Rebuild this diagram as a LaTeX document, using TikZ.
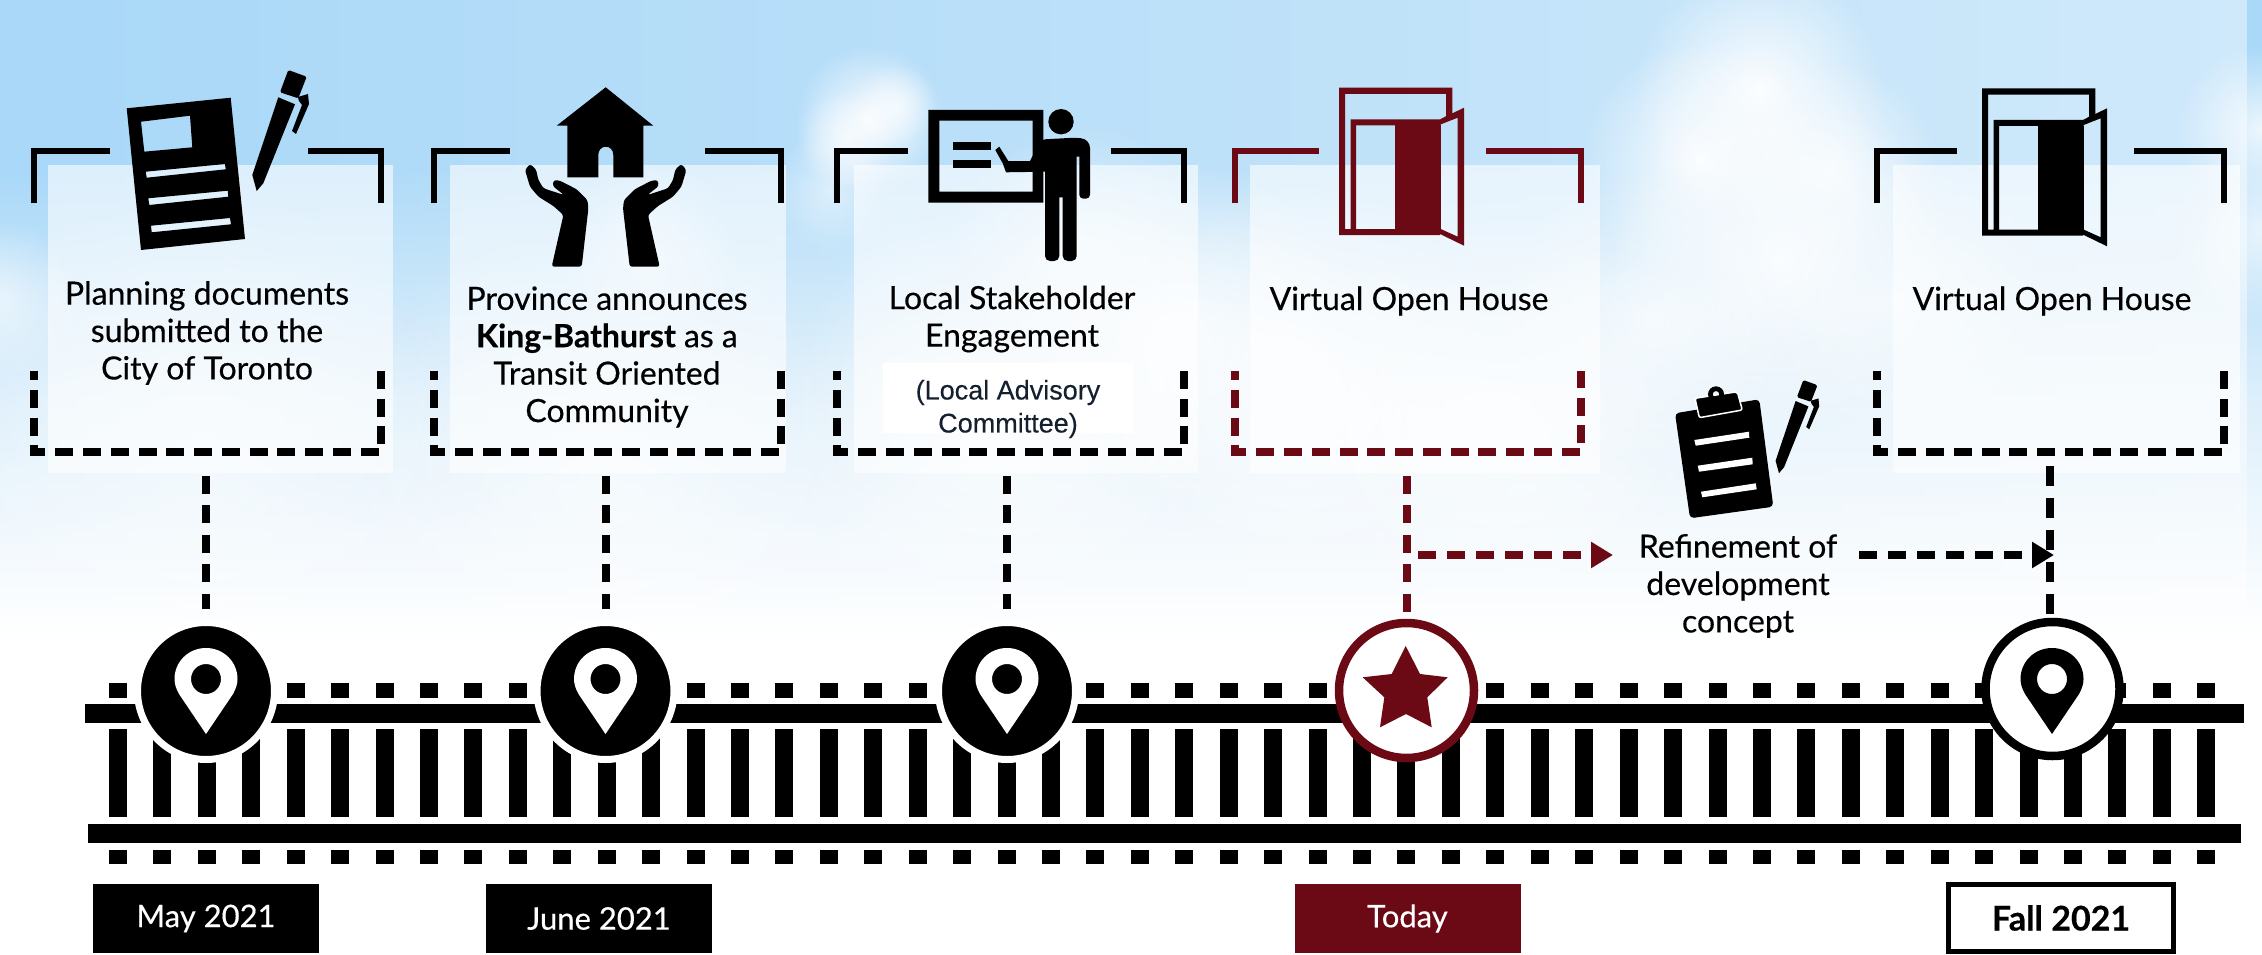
\documentclass[tikz,border=0pt]{standalone}
\usepackage{fontspec}
\setmainfont[FakeBold=0.35]{Lato}
\newfontfamily\arialfont[FakeBold=0.3]{Liberation Sans}
\usetikzlibrary{arrows.meta,calc,fadings,shapes.geometric}
\definecolor{maroon}{HTML}{6B0A14}
\definecolor{skytop}{HTML}{A9D8F8}
\definecolor{skymid}{HTML}{DDEFFB}
\definecolor{navytext}{HTML}{14202E}
\tikzfading[name=softblob, inner color=transparent!0, outer color=transparent!100]
\tikzset{
  panel/.style={fill=white, fill opacity=.6},
  bracketline/.style={line width=6pt, line cap=butt, line join=miter},
  bracketdash/.style={line width=7.5pt, line join=miter, dash pattern=on 18pt off 9.78pt, dash phase=8.9pt},
  framenode/.style={rectangle, minimum height=301pt, inner sep=0pt, outer sep=0pt},
  connector/.style={line width=8pt, dash pattern=on 18pt off 11.4pt},
  flowarrow/.style={line width=7.5pt, dash pattern=on 18pt off 11pt, -{Triangle[length=22pt,width=25pt]}},
  captiontext/.style={align=center, font=\fontsize{32}{37.4}\selectfont, text=black, inner sep=0pt},
  datebox/.style={rectangle, minimum width=226pt, minimum height=69pt, inner sep=0pt, outer sep=0pt, text=white, font=\fontsize{31}{36}\selectfont},
  railpart/.style={fill=black},
  stopdark/.style={circle, minimum size=137pt, inner sep=0pt, outer sep=0pt, fill=black, draw=white, line width=7pt},
  stopring/.style={circle, inner sep=0pt, outer sep=0pt, fill=white, line width=8.5pt},
  pinshape/.pic={
    \fill[pic actions, even odd rule] (0,55) -- (-27,15) .. controls (-30,9.5) and (-31.5,5) .. (-31.5,0)
      .. controls (-31.5,-17.4) and (-17.4,-31) .. (0,-31) .. controls (17.4,-31) and (31.5,-17.4) .. (31.5,0)
      .. controls (31.5,5) and (30,9.5) .. (27,15) -- cycle (0,0) circle[radius=15pt];
  },
  penshape/.pic={
    \fill[rounded corners=1.5pt] (0,0) -- (18.4,6.7) -- (10,28.3) -- (-8.3,22.3) -- cycle;
    \fill (-10,27.3) -- (6.7,34.3) -- (-25,113.3) -- (-31.6,121) -- (-36,105) -- cycle;
    \fill (9.5,27) -- (19.7,24) -- (20.7,34) -- (7.7,64) -- (3.7,61) -- (13.7,35) -- (10.7,31) -- cycle;
  },
  handshape/.pic={
    \fill[rounded corners=2.5pt] (-80.7,90) -- (-75.7,84) -- (-69.7,89.3) -- (-67.3,100) -- (-62.3,108.3) -- (-41.7,115)
      -- (-53,106) -- (-52,100) -- (-45.7,100.7) -- (-29,109.3) -- (-18.3,120) -- (-17.3,128.3)
      -- (-24,186.7) -- (-54,186.7) -- (-42.3,135) -- (-52.3,126) -- (-67.3,116.7) -- (-75.7,106.7) -- cycle;
  },
  doorshape/.pic={
    \fill[even odd rule, pic actions] (0,0) -- (113.3,0) -- (113.3,25.7) -- (125,20) -- (125,158) -- (101,146.3) -- (101,147.3) -- (0,147.3) -- cycle
      (6,6.3) -- (107,6.3) -- (107,28.5) -- (101,31.7) -- (11.7,31.7) -- (11.7,141.3) -- (6,141.3) -- cycle
      (17,37.7) rectangle (56.3,141.3)
      (101.7,36.7) -- (118.7,30) -- (118.7,149) -- (101.7,141.3) -- cycle;
  }
}
\begin{document}
\begin{tikzpicture}[x=1pt,y=-1pt]
\useasboundingbox (0,0) rectangle (2262,955);
\begin{scope}
\clip (0,0) rectangle (2262,955);
% sky
\fill[white] (0,0) rectangle (2262,955);
\fill[skytop] (0,0) rectangle (2262,170);
\shade[top color=skytop, bottom color=skymid] (0,170) rectangle (2262,400);
\shade[top color=skymid, bottom color=white] (0,400) rectangle (2262,640);
\fill[white, path fading=west, fill opacity=.45] (0,0) rectangle (2262,640);
% clouds
\foreach \x/\y/\r/\o in {
  870/120/75/.9, 895/105/42/.7, 845/140/50/.7, 830/190/60/.5,
  1760/90/125/.95, 1700/160/120/.9, 1830/170/110/.85, 1780/260/170/.9, 1650/320/150/.7, 1900/300/150/.6,
  2262/130/85/.8, 2262/230/90/.7,
  1180/330/170/.8, 1300/380/200/.8, 1000/420/220/.7, 1500/420/200/.7, 1080/250/130/.6,
  0/300/80/.6, 200/450/260/.5, 600/470/260/.55, 650/250/90/.5}
  {\fill[white, path fading=softblob, fill opacity=\o] (\x,\y) circle[radius=\r pt];}
% translucent panels
\fill[panel] (48,165) rectangle (393,473);
\fill[panel] (450,165) rectangle (786,473);
\fill[panel] (854,165) rectangle (1198,473);
\fill[panel] (1250,165) rectangle (1600,473);
\fill[panel] (1893,165) rectangle (2240,473);
\end{scope}

% track
\foreach \i in {0,...,47}{
  \fill[railpart] (109+44.43*\i,683) rectangle +(18,14.5);
  \fill[railpart] (109+44.43*\i,729) rectangle +(18,88);
  \fill[railpart] (109+44.43*\i,850) rectangle +(18,13.5);
}
\fill[railpart] (85,704) rectangle (2244,723);
\fill[railpart] (88,824) rectangle (2241,843);

% caption frames
\foreach \n/\l/\r/\a/\b/\c in {b1/34/381/110/308/black, b2/434/781/510/705/black, b3/837/1184/908/1111/black, b4/1235/1581/1319/1486/maroon, b5/1877/2224/1957/2134/black}{
  \node[framenode, minimum width={(\r-\l)*1pt}] (\n) at ({(\l+\r)/2},301.5) {};
  \draw[bracketline, \c] (\l,203) -- (\l,151) -- (\a,151);
  \draw[bracketline, \c] (\r,203) -- (\r,151) -- (\b,151);
  \draw[bracketdash, \c] (\l,371) -- (\l,452) -- (\r,452) -- (\r,371);
}

% stops
\node[stopdark] (p1) at (206,691) {};
\node[stopdark] (p2) at (605.5,691) {};
\node[stopdark] (p3) at (1007,691) {};
\node[stopring, draw=maroon, minimum size=135pt] (p4) at (1406.5,690.5) {};
\node[stopring, draw=black, minimum size=134pt] (p5) at (2052.5,689) {};
\pic[fill=white] at (206,679) {pinshape};
\pic[fill=white] at (605.5,679) {pinshape};
\pic[fill=white] at (1007,679) {pinshape};
\pic[fill=black] at (2052,679) {pinshape};
\fill[maroon] (1405.7,646) -- (1420,674) -- (1447.7,677.3) -- (1427.3,697.3) -- (1431.7,727.3) -- (1406,714) -- (1380,727.3) -- (1384.3,697.3) -- (1362.7,677.3) -- (1391.7,674) -- cycle;

% connectors
\draw[connector, shorten >=14pt] (p1 |- b1.south) ++(0,24) -- (p1.north);
\draw[connector, shorten >=14pt] (p2 |- b2.south) ++(0,24) -- (p2.north);
\draw[connector, shorten >=14pt] (p3 |- b3.south) ++(0,24) -- (p3.north);
\draw[connector, maroon, shorten >=6pt] (p4 |- b4.south) ++(0,24) -- (p4.north);
\draw[connector, dash pattern=on 20pt off 12pt, shorten >=3pt] ([xshift=-2.5pt]p5 |- b5.south) ++(0,14) -- ([xshift=-2.5pt]p5.north);

% captions
\node[captiontext] (t1) at (207,333) {Planning documents\\submitted to the\\City of Toronto};
\node[captiontext] (t2) at (607,357) {Province announces\\\textbf{King-Bathurst} as a\\Transit Oriented\\Community};
\node[captiontext] (t3) at (1012,319) {Local Stakeholder\\Engagement};
\node[fill=white, minimum width=250pt, minimum height=70pt, inner sep=0pt] (w3) at (1008,398) {};
\node[align=center, inner sep=0pt, text=navytext, font=\arialfont\fontsize{27}{33}\selectfont] (t3b) at (1008,409) {(Local Advisory\\Committee)};
\node[captiontext] (t4) at (1409,301) {Virtual Open House};
\node[captiontext] (t5) at (2052,301) {Virtual Open House};
\node[captiontext] (r) at (1738,586) {Refinement of\\development\\concept};

% flow arrows
\coordinate (ra) at (1418,555);
\coordinate (rb) at (1613,555);
\coordinate (ba) at (1859,555);
\coordinate (bb) at (2054,555);
\draw[flowarrow, maroon] (ra) -- (rb);
\draw[flowarrow, black] (ba) -- (bb);

% dates
\node[datebox, fill=black] (d1) at (206,918.5) {May 2021};
\node[datebox, fill=black] (d2) at (599,918.5) {June 2021};
\node[datebox, fill=maroon] (d3) at (1407.5,918.5) {Today};
\node[datebox, fill=white, draw=black, line width=5pt, text=black, minimum width=225pt, minimum height=67pt, font=\fontsize{34}{36}\selectfont\bfseries] (d4) at (2061,918) {Fall 2021};

% document and pen
\fill[even odd rule] (126.7,108.3) -- (230.7,97.7) -- (245,239) -- (141,250) -- cycle
  (141,121.7) -- (190,115.7) -- (192.3,147.3) -- (144.3,151.7) -- cycle
  (145.7,171.7) -- (225,164) -- (225.7,169.3) -- (146.7,177.7) -- cycle
  (148.3,198.3) -- (227.7,190.7) -- (228.3,196.7) -- (149.3,205) -- cycle
  (151,225.7) -- (230,218) -- (231,224.3) -- (151.7,232.3) -- cycle;
\pic at (288.3,70) {penshape};

% house and hands
\fill[even odd rule] (605.7,87.3) -- (653.3,125.7) -- (643.3,125.7) -- (643.3,177.3) -- (613.3,177.3) -- (613.3,155)
  .. controls (613.3,150) and (610,146.7) .. (605.8,146.7) .. controls (601.6,146.7) and (598.3,150) .. (598.3,155)
  -- (598.3,177.3) -- (567.3,177.3) -- (567.3,125.7) -- (556.7,125.7) -- cycle;
\pic at (605.7,80) {handshape};
\pic[xscale=-1] at (605.7,80) {handshape};

% presenter
\fill[even odd rule] (928.3,110) rectangle (1043.3,202.7) (939.3,120.7) rectangle (1032.7,191.7);
\fill (953.3,142.3) rectangle (991,150);
\fill (953.3,160) rectangle (991,167.7);
\fill (1061,121.7) circle[radius=12.7pt];
\fill[rounded corners=2pt] (1045,139.3) -- (1074,137.7) [rounded corners=9pt] -- (1090,139) [rounded corners=4pt] -- (1090,198.7) -- (1079.3,198.7) [rounded corners=0pt] -- (1079.3,156.7) -- (1076.7,156.7) [rounded corners=5pt] -- (1076.7,261) -- (1062.7,261) [rounded corners=0pt] -- (1062.7,197.3) -- (1059.3,197.3) [rounded corners=5pt] -- (1059.3,261) -- (1045,261) [rounded corners=0pt] -- (1045,171.7) -- (1006,172.3) -- (1002.7,163.3) -- (995.3,150) -- (999.3,146.7) -- (1008.3,161) -- (1030,161) -- (1040,141.7) -- cycle;

% doors
\pic[fill=maroon] at (1339,87.7) {doorshape};
\fill[maroon] (1395.3,125.4) rectangle (1441,229);
\pic[fill=black] at (1982,88.3) {doorshape};
\fill[black] (2038.3,126) rectangle (2084,229.6);

% clipboard and pen
\fill[rounded corners=4pt, even odd rule] (1675,413.3) -- (1759.3,399.3) -- (1773.3,506.7) -- (1690,518.3) -- cycle;
\fill[white, even odd rule] (1694.3,440) -- (1749,431.7) -- (1749.3,437.7) -- (1695.7,445.7) -- cycle
  (1697.7,465.7) -- (1752.3,457.7) -- (1752.7,464.3) -- (1699,471.7) -- cycle
  (1701,491.7) -- (1755.7,483.3) -- (1756.7,489.3) -- (1702.3,497.3) -- cycle;
\draw[white, line width=1.5pt, fill=black, rounded corners=2pt] (1695,398.3) -- (1737.3,391.7) -- (1742.3,410) -- (1699.3,417.7) -- cycle;
\fill[even odd rule] (1716,394.3) circle[radius=8pt] (1716,394.3) circle[radius=3.3pt];
\pic[scale=.77] at (1803.3,380) {penshape};
\end{tikzpicture}
\end{document}
